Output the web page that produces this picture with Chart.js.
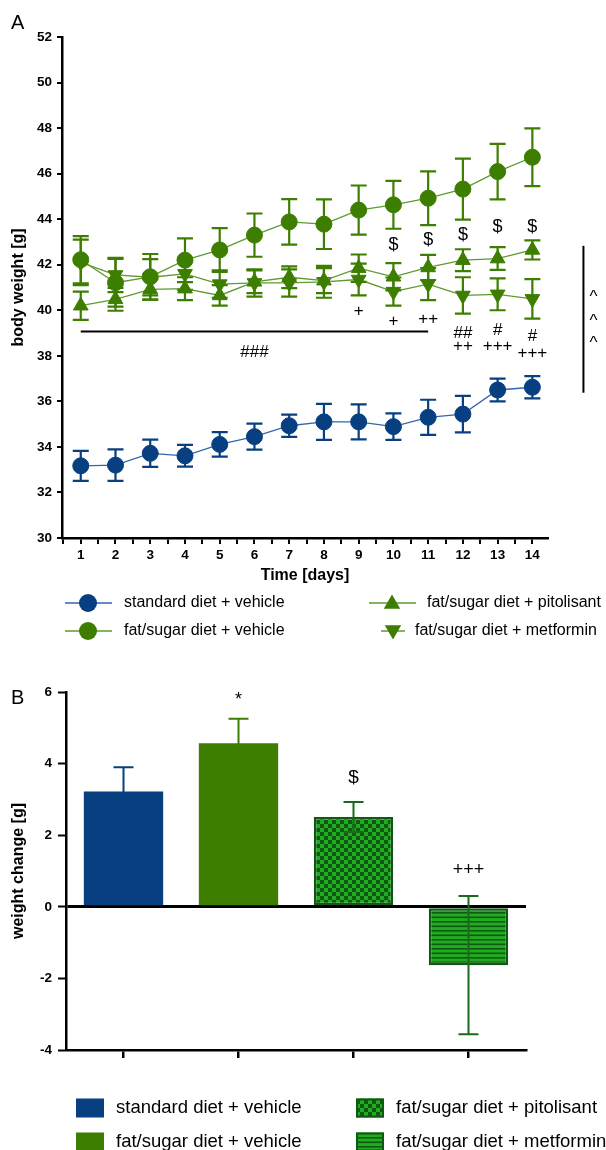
<!DOCTYPE html>
<html><head><meta charset="utf-8">
<script src="https://cdn.jsdelivr.net/npm/chart.js@4.4.1/dist/chart.umd.min.js"></script>
<style>
html,body{margin:0;padding:0;background:#fff;width:606px;height:1150px;overflow:hidden;}
#wrapA{position:absolute;left:0;top:0;width:606px;height:660px;}
#wrapB{position:absolute;left:0;top:660px;width:606px;height:490px;}
.panel{position:absolute;font-family:"Liberation Sans",Arial,sans-serif;font-size:20px;line-height:20px;color:#000;z-index:2;}
</style></head><body>
<div id="wrapA"><canvas id="cA" width="606" height="660"></canvas></div>
<div id="wrapB"><canvas id="cB" width="606" height="490"></canvas></div>
<div class="panel" style="left:11px;top:12px">A</div>
<div class="panel" style="left:11px;top:687px">B</div>
<script>
// ---------- DATA: panel A ----------
const days = [1,2,3,4,5,6,7,8,9,10,11,12,13,14];
const seriesNames = ['standard diet + vehicle','fat/sugar diet + vehicle','fat/sugar diet + pitolisant','fat/sugar diet + metformin'];
const stdVehicle    = [33.17,33.20,33.72,33.61,34.11,34.45,34.93,35.10,35.10,34.89,35.30,35.44,36.50,36.62];
const stdVehicleErr = [0.66,0.69,0.60,0.48,0.54,0.57,0.49,0.79,0.77,0.58,0.77,0.80,0.50,0.49];
const fsVehicle     = [42.22,41.21,41.47,42.20,42.65,43.30,43.88,43.78,44.40,44.63,44.92,45.32,46.09,46.72];
const fsVehicleErr  = [1.04,1.05,1.00,0.96,0.96,0.95,1.00,1.09,1.08,1.05,1.18,1.34,1.22,1.27];
const fsPitolisant  = [40.20,40.48,40.92,40.95,40.65,41.25,41.45,41.30,41.85,41.47,41.88,42.20,42.27,42.65];
const fsPitolisantErr=[0.62,0.50,0.45,0.50,0.45,0.50,0.48,0.55,0.60,0.60,0.55,0.48,0.50,0.42];
const fsMetformin   = [42.10,41.55,41.45,41.60,41.15,41.20,41.20,41.25,41.35,40.82,41.15,40.65,40.70,40.50];
const fsMetforminErr= [1.00,0.75,0.80,0.70,0.60,0.60,0.60,0.70,0.70,0.62,0.70,0.80,0.70,0.87];
const yTicksA = [30,32,34,36,38,40,42,44,46,48,50,52];
// significance marks (day, y value in g)
const dollarDays = [10,11,12,13,14];
const dollarY    = [42.88,43.08,43.30,43.66,43.64];
const plusDays   = [9,10,11,12,13,14];
const plusText   = ['+','+','++','++','+++','+++'];
const plusY      = [39.94,39.50,39.60,38.40,38.43,38.10];
const hashDays   = [12,13,14];
const hashText   = ['##','#','#'];
const hashY      = [39.01,39.10,38.84];
const hashLineDays = [1,11];
const hashLineY  = 39.07;
const hash3Day   = 6, hash3Y = 38.14, hash3Text = '###';
const bracketDay = 15.47, bracketY = [42.83,36.38];
const caretDay   = 15.76, caretY = [40.76,39.72,38.74];

// ---------- DATA: panel B ----------
const barCategories = ['standard diet + vehicle','fat/sugar diet + vehicle','fat/sugar diet + pitolisant','fat/sugar diet + metformin'];
const barValues = [3.22,4.57,2.51,-1.63];
const barErrors = [0.68,0.68,0.42,1.93];
const barMarks  = ['','*','$','+++'];
const barMarkY  = [0,5.92,3.60,1.03];
const yTicksB   = [-4,-2,0,2,4,6];

// ---------- STYLE ----------
const FONT = '"Liberation Sans", Arial, Helvetica, sans-serif';
const BLUE = '#073f80', BLUE_LINE = '#3566ad';
const GREEN = '#3d7e00', GREEN_LINE = '#5e9a2e';
const DARK = '#0d5a10', BRIGHT = '#21ab21';
Chart.defaults.font.family = FONT;
Chart.defaults.color = '#000';

function markerPath(ctx, style, x, y, r) {
  ctx.beginPath();
  if (style === 'circle') { ctx.arc(x, y, r, 0, Math.PI*2); }
  else if (style === 'up') {
    ctx.moveTo(x, y - r); ctx.lineTo(x + r*0.866, y + r*0.5); ctx.lineTo(x - r*0.866, y + r*0.5); ctx.closePath();
  } else {
    ctx.moveTo(x, y + r); ctx.lineTo(x + r*0.866, y - r*0.5); ctx.lineTo(x - r*0.866, y - r*0.5); ctx.closePath();
  }
}

function mkDs(label, vals, errs, color, lineColor, style, radius, rot) {
  return {
    label, data: days.map((d,i)=>({x:d, y:vals[i]})), errs, errColor: color, mstyle: style,
    borderColor: lineColor, borderWidth: 1.3, backgroundColor: color,
    pointStyle: style === 'circle' ? 'circle' : 'triangle', pointRotation: rot,
    pointRadius: radius, pointHoverRadius: radius, pointBackgroundColor: color, pointBorderColor: color, pointBorderWidth: 1,
    tension: 0, fill: false
  };
}

const pluginA = {
  id: 'panelA',
  beforeDatasetDraw(chart, args) {
    const ds = chart.data.datasets[args.index];
    const xs = chart.scales.x, ys = chart.scales.y, ctx = chart.ctx;
    ctx.save();
    ctx.strokeStyle = ds.errColor; ctx.lineWidth = 2.2;
    ds.data.forEach((p, i) => {
      const e = ds.errs[i];
      const x = xs.getPixelForValue(p.x);
      const yt = ys.getPixelForValue(p.y + e), yb = ys.getPixelForValue(p.y - e);
      ctx.beginPath();
      ctx.moveTo(x, yt); ctx.lineTo(x, yb);
      ctx.moveTo(x - 8, yt); ctx.lineTo(x + 8, yt);
      ctx.moveTo(x - 8, yb); ctx.lineTo(x + 8, yb);
      ctx.stroke();
    });
    ctx.restore();
  },
  afterDraw(chart) {
    const xs = chart.scales.x, ys = chart.scales.y, ctx = chart.ctx;
    ctx.save();
    ctx.fillStyle = '#000';
    ctx.textAlign = 'center';
    ctx.textBaseline = 'middle';
    ctx.font = '18px ' + FONT;
    dollarDays.forEach((d,i)=> ctx.fillText('$', xs.getPixelForValue(d), ys.getPixelForValue(dollarY[i])));
    ctx.font = '17px ' + FONT;
    plusDays.forEach((d,i)=> ctx.fillText(plusText[i], xs.getPixelForValue(d), ys.getPixelForValue(plusY[i])));
    hashDays.forEach((d,i)=> ctx.fillText(hashText[i], xs.getPixelForValue(d), ys.getPixelForValue(hashY[i])));
    ctx.fillText(hash3Text, xs.getPixelForValue(hash3Day), ys.getPixelForValue(hash3Y));
    // line under ###
    ctx.strokeStyle = '#000'; ctx.lineWidth = 2;
    ctx.beginPath();
    ctx.moveTo(xs.getPixelForValue(hashLineDays[0]), ys.getPixelForValue(hashLineY));
    ctx.lineTo(xs.getPixelForValue(hashLineDays[1]), ys.getPixelForValue(hashLineY));
    ctx.stroke();
    // right bracket and carets
    ctx.beginPath();
    ctx.moveTo(xs.getPixelForValue(bracketDay), ys.getPixelForValue(bracketY[0]));
    ctx.lineTo(xs.getPixelForValue(bracketDay), ys.getPixelForValue(bracketY[1]));
    ctx.stroke();
    ctx.textBaseline = 'alphabetic';
    ctx.font = '17px ' + FONT;
    caretY.forEach(v => ctx.fillText('^', xs.getPixelForValue(caretDay), ys.getPixelForValue(v) + 9));
    // legend
    const items = [
      {x0:65, x1:112, xm:88, y:603, tx:124},
      {x0:65, x1:112, xm:88, y:631, tx:124},
      {x0:369, x1:416, xm:392, y:603, tx:427},
      {x0:381, x1:405, xm:393, y:631, tx:415}
    ];
    chart.data.datasets.forEach((ds, i) => {
      const it = items[i];
      ctx.strokeStyle = ds.borderColor; ctx.lineWidth = 1.5;
      ctx.beginPath(); ctx.moveTo(it.x0, it.y); ctx.lineTo(it.x1, it.y); ctx.stroke();
      ctx.fillStyle = ds.errColor;
      markerPath(ctx, ds.mstyle, it.xm, it.y + (ds.mstyle==='up'? 1 : (ds.mstyle==='down'? -1:0)), ds.mstyle==='circle' ? 9 : 9.5);
      ctx.fill();
      ctx.fillStyle = '#000';
      ctx.textAlign = 'left'; ctx.textBaseline = 'middle';
      ctx.font = '16px ' + FONT;
      ctx.fillText(ds.label, it.tx, it.y);
    });
    ctx.restore();
  }
};

new Chart(document.getElementById('cA'), {
  type: 'line',
  data: {
    datasets: [
      mkDs(seriesNames[0], stdVehicle, stdVehicleErr, BLUE, BLUE_LINE, 'circle', 8, 0),
      mkDs(seriesNames[1], fsVehicle, fsVehicleErr, GREEN, GREEN_LINE, 'circle', 8, 0),
      mkDs(seriesNames[2], fsPitolisant, fsPitolisantErr, GREEN, GREEN_LINE, 'up', 8.5, 0),
      mkDs(seriesNames[3], fsMetformin, fsMetforminErr, GREEN, GREEN_LINE, 'down', 8.5, 180)
    ]
  },
  options: {
    responsive: false, animation: false, events: [],
    layout: { padding: { left: 0, right: 58, top: 37, bottom: 72 } },
    plugins: { legend: { display: false }, tooltip: { enabled: false } },
    scales: {
      x: {
        type: 'linear', min: 0.46, max: 14.45,
        afterFit: s => { s.height = 50; },
        afterBuildTicks: s => { s.ticks = s.ticks.filter(t => t.value > 0.46 && t.value < 14.45); },
        grid: { drawOnChartArea: false, drawTicks: true, tickLength: 6, color: '#000', tickColor: '#000', lineWidth: 2, tickWidth: 2 },
        border: { display: true, color: '#000', width: 2.5 },
        ticks: { stepSize: 0.5, includeBounds: false, autoSkip: false, maxRotation: 0, padding: 3,
          font: { size: 13.5, weight: 'bold' }, color: '#000',
          callback: v => Math.abs(v - Math.round(v)) < 1e-6 ? String(Math.round(v)) : '' },
        title: { display: true, text: 'Time [days]', font: { size: 16, weight: 'bold' }, color: '#000', padding: { top: 0, bottom: 3 } }
      },
      y: {
        min: 30, max: 52,
        afterFit: s => { s.width = 62; },
        afterBuildTicks: s => { s.ticks = yTicksA.map(v => ({ value: v })); },
        grid: { drawOnChartArea: false, drawTicks: true, tickLength: 5, color: '#000', tickColor: '#000', lineWidth: 2, tickWidth: 2 },
        border: { display: true, color: '#000', width: 2.5 },
        ticks: { padding: 5, font: { size: 13.5, weight: 'bold' }, color: '#000' },
        title: { display: true, text: 'body weight [g]', font: { size: 16, weight: 'bold' }, color: '#000', padding: { top: 9, bottom: 0 } }
      }
    }
  },
  plugins: [pluginA]
});

// ---------- panel B ----------
const cB = document.getElementById('cB');
const ctxB = cB.getContext('2d');
function checkerPattern() {
  const t = document.createElement('canvas'); t.width = 8; t.height = 8;
  const g = t.getContext('2d');
  g.fillStyle = DARK; g.fillRect(0,0,8,8);
  g.fillStyle = BRIGHT; g.fillRect(0,0,4,4); g.fillRect(4,4,4,4);
  return ctxB.createPattern(t, 'repeat');
}
function stripePattern() {
  const t = document.createElement('canvas'); t.width = 8; t.height = 9;
  const g = t.getContext('2d');
  g.fillStyle = BRIGHT; g.fillRect(0,0,8,9);
  g.fillStyle = DARK; g.fillRect(0,0,8,1.6); g.fillRect(0,4.5,8,1.6);
  return ctxB.createPattern(t, 'repeat');
}
const fillsB = [BLUE, GREEN, checkerPattern(), stripePattern()];
const errColorsB = [BLUE, GREEN, '#1b6a1b', '#1b6a1b'];

const pluginB = {
  id: 'panelB',
  afterDatasetsDraw(chart) {
    const ys = chart.scales.y, ctx = chart.ctx;
    const meta = chart.getDatasetMeta(0);
    ctx.save();
    ctx.lineWidth = 2;
    barValues.forEach((v, i) => {
      const x = meta.data[i].x;
      const yt = ys.getPixelForValue(v + barErrors[i]), yb = ys.getPixelForValue(v - barErrors[i]);
      ctx.strokeStyle = errColorsB[i];
      ctx.beginPath();
      ctx.moveTo(x, yt); ctx.lineTo(x, yb);
      ctx.moveTo(x - 10, yt); ctx.lineTo(x + 10, yt);
      ctx.moveTo(x - 10, yb); ctx.lineTo(x + 10, yb);
      ctx.stroke();
    });
    ctx.restore();
  },
  afterDraw(chart) {
    const ys = chart.scales.y, ctx = chart.ctx;
    const meta = chart.getDatasetMeta(0);
    ctx.save();
    ctx.fillStyle = '#000'; ctx.textAlign = 'center';
    barMarks.forEach((m, i) => {
      if (!m) return;
      const x = meta.data[i].x, y = ys.getPixelForValue(barMarkY[i]);
      if (m === '*') { ctx.font = '18px ' + FONT; ctx.textBaseline = 'alphabetic'; ctx.fillText(m, x, y + 10); }
      else if (m === '$') { ctx.font = '19px ' + FONT; ctx.textBaseline = 'middle'; ctx.fillText(m, x, y); }
      else { ctx.font = '18px ' + FONT; ctx.textBaseline = 'middle'; ctx.fillText(m, x, y); }
    });
    // legend
    const items = [
      {sx:76, y:448, tx:116},
      {sx:76, y:482, tx:116},
      {sx:356, y:448, tx:396},
      {sx:356, y:482, tx:396}
    ];
    barCategories.forEach((name, i) => {
      const it = items[i];
      ctx.fillStyle = fillsB[i];
      ctx.fillRect(it.sx, it.y - 9.5, 28, 19);
      if (i >= 2) { ctx.strokeStyle = DARK; ctx.lineWidth = 2; ctx.strokeRect(it.sx + 1, it.y - 8.5, 26, 17); }
      ctx.fillStyle = '#000'; ctx.textAlign = 'left'; ctx.textBaseline = 'middle';
      ctx.font = '18.5px ' + FONT;
      ctx.fillText(name, it.tx, it.y);
    });
    ctx.restore();
  }
};

new Chart(cB, {
  type: 'bar',
  data: {
    labels: barCategories,
    datasets: [{
      data: barValues,
      backgroundColor: fillsB,
      borderColor: [BLUE, GREEN, DARK, DARK],
      borderWidth: [0, 0, 2.5, 2.5],
      borderSkipped: false,
      barPercentage: 0.69, categoryPercentage: 1
    }]
  },
  options: {
    responsive: false, animation: false, events: [],
    layout: { padding: { left: 0, right: 80, top: 32, bottom: 90 } },
    plugins: { legend: { display: false }, tooltip: { enabled: false } },
    scales: {
      x: {
        afterFit: s => { s.height = 10; },
        grid: { offset: false, drawOnChartArea: false, drawTicks: true, tickLength: 8, color: '#000', tickColor: '#000', lineWidth: 2.5, tickWidth: 2.5 },
        border: { display: true, color: '#000', width: 2.5 },
        ticks: { display: true, callback: () => '' }
      },
      y: {
        min: -4, max: 6, z: 1,
        afterFit: s => { s.width = 66; },
        afterBuildTicks: s => { s.ticks = yTicksB.map(v => ({ value: v })); },
        grid: { drawOnChartArea: true, drawTicks: true, tickLength: 8, tickColor: '#000', tickWidth: 2,
          color: c => (c.tick && c.tick.value === 0) ? '#000' : 'rgba(0,0,0,0)',
          lineWidth: c => (c.tick && c.tick.value === 0) ? 3 : 1 },
        border: { display: true, color: '#000', width: 2.5 },
        ticks: { padding: 6, font: { size: 13.5, weight: 'bold' }, color: '#000' },
        title: { display: true, text: 'weight change [g]', font: { size: 16, weight: 'bold' }, color: '#000', padding: { top: 9, bottom: 0 } }
      }
    }
  },
  plugins: [pluginB]
});
</script>
</body></html>
